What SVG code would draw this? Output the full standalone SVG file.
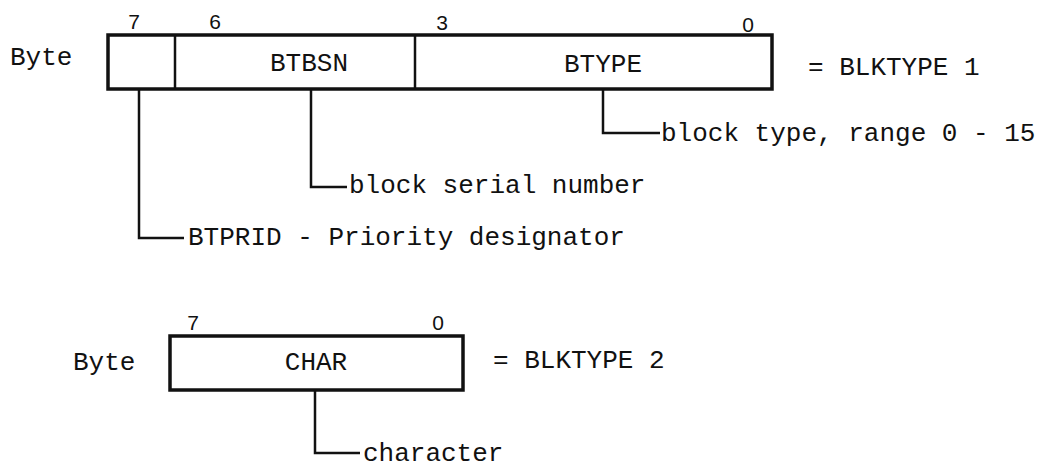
<svg xmlns="http://www.w3.org/2000/svg" width="1053" height="470" viewBox="0 0 1053 470">
<style>
.mono{font-family:"Liberation Mono","DejaVu Sans Mono",monospace;font-size:26px;fill:#111}
.bit{font-family:"Liberation Sans",Arial,sans-serif;font-size:21px;fill:#111;text-anchor:middle}
.box{fill:#fff;stroke:#111;stroke-width:3.5}
.div{stroke:#111;stroke-width:2.5}
.lead{fill:none;stroke:#111;stroke-width:2.5}
</style>
<rect width="1053" height="470" fill="#fff"/>
<g id="byte1">
<text class="mono" x="10" y="65">Byte</text>
<rect class="box" x="108" y="35" width="664" height="54"/>
<line class="div" x1="175" y1="35" x2="175" y2="89"/>
<line class="div" x1="415" y1="35" x2="415" y2="89"/>
<text class="bit" x="134" y="29">7</text>
<text class="bit" x="215" y="29">6</text>
<text class="bit" x="442" y="30">3</text>
<text class="bit" x="748" y="32">0</text>
<text class="mono" x="309" y="71" text-anchor="middle">BTBSN</text>
<text class="mono" x="603" y="72" text-anchor="middle">BTYPE</text>
<text class="mono" x="808" y="75">= BLKTYPE 1</text>
</g>
<g id="byte2">
<text class="mono" x="73" y="370">Byte</text>
<rect class="box" x="170" y="336" width="293" height="54"/>
<text class="bit" x="193" y="330">7</text>
<text class="bit" x="438" y="330">0</text>
<text class="mono" x="316" y="370" text-anchor="middle">CHAR</text>
<text class="mono" x="493" y="368">= BLKTYPE 2</text>
</g>
<g id="labels">
<text class="mono" x="661" y="141">block type, range 0 - 15</text>
<text class="mono" x="349" y="193">block serial number</text>
<text class="mono" x="188" y="245">BTPRID - Priority designator</text>
<text class="mono" x="363" y="461">character</text>
</g>
<g id="connectors">
<polyline class="lead" points="603,89 603,133 660,133"/>
<polyline class="lead" points="311,89 311,187 347,187"/>
<polyline class="lead" points="139,89 139,238 184,238"/>
<polyline class="lead" points="315,390 315,453 360,453"/>
</g>
</svg>
